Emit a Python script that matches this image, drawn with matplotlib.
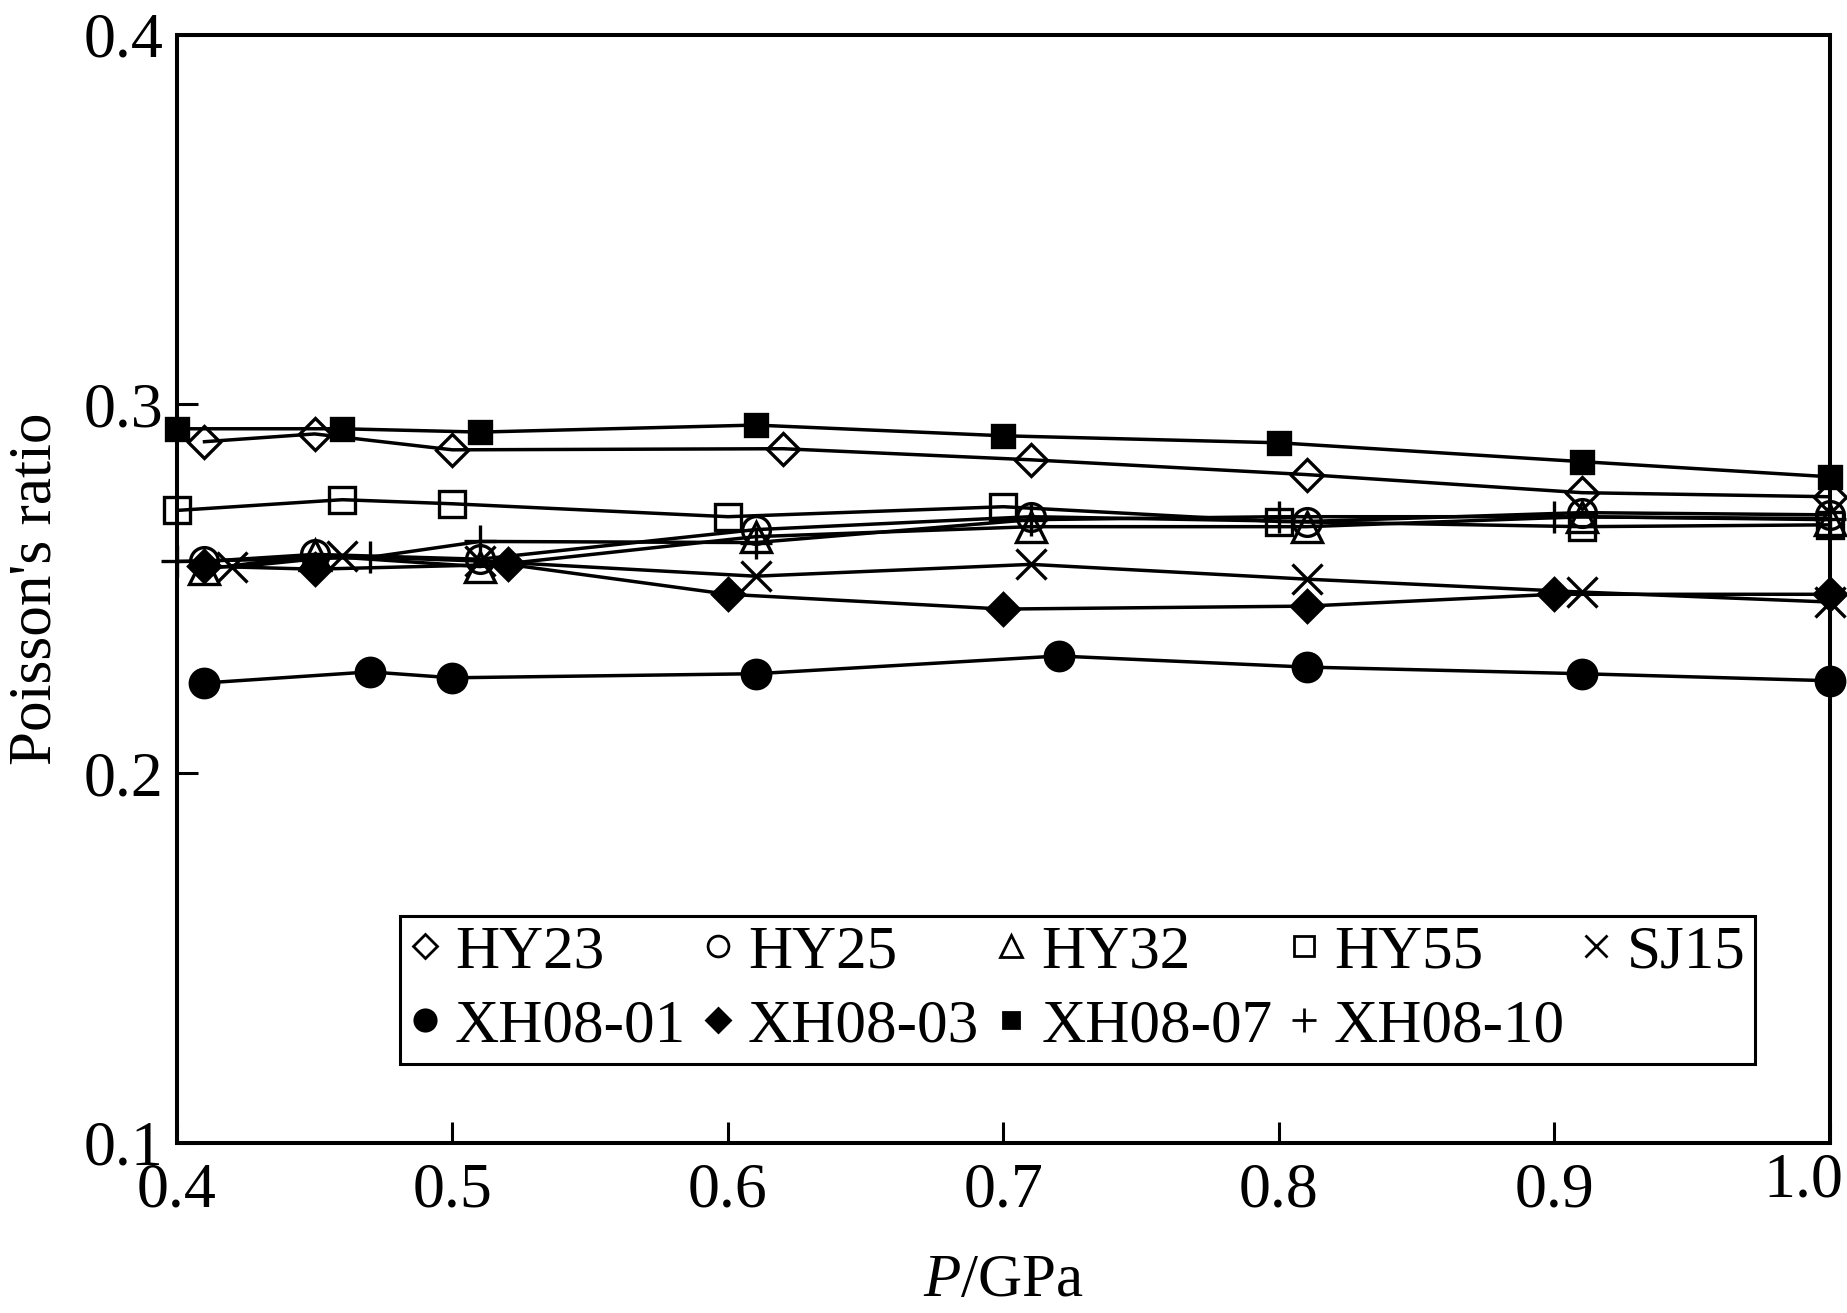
import matplotlib
matplotlib.use('Agg')
from matplotlib import pyplot as plt
from matplotlib.lines import Line2D
from matplotlib.transforms import ScaledTranslation

plt.rcParams['font.family'] = ['Liberation Serif', 'DejaVu Serif']
plt.rcParams['mathtext.fontset'] = 'custom'
plt.rcParams['mathtext.rm'] = 'Liberation Serif'
plt.rcParams['mathtext.it'] = 'Liberation Serif:italic'

# pressure (GPa) and Poisson's ratio for each sample
hy23_p = [0.41, 0.45, 0.50, 0.62, 0.71, 0.81, 0.91, 1.00]
hy23_v = [0.2898, 0.2919, 0.2876, 0.2879, 0.2849, 0.2809, 0.2760, 0.2749]

hy25_p = [0.41, 0.45, 0.51, 0.61, 0.71, 0.81, 0.91, 1.00]
hy25_v = [0.2574, 0.2593, 0.2580, 0.2660, 0.2695, 0.2682, 0.2706, 0.2700]

hy32_p = [0.41, 0.45, 0.51, 0.61, 0.71, 0.81, 0.91, 1.00]
hy32_v = [0.2553, 0.2590, 0.2560, 0.2641, 0.2668, 0.2668, 0.2695, 0.2687]

hy55_p = [0.40, 0.46, 0.50, 0.60, 0.70, 0.80, 0.91, 1.00]
hy55_v = [0.2712, 0.2741, 0.2730, 0.2695, 0.2722, 0.2682, 0.2668, 0.2673]

sj15_p = [0.42, 0.46, 0.51, 0.61, 0.71, 0.81, 0.91, 1.00]
sj15_v = [0.2558, 0.2588, 0.2575, 0.2534, 0.2566, 0.2526, 0.2491, 0.2464]

xh01_p = [0.41, 0.47, 0.50, 0.61, 0.72, 0.81, 0.91, 1.00]
xh01_v = [0.2245, 0.2275, 0.2259, 0.2270, 0.2318, 0.2288, 0.2270, 0.2251]

xh03_p = [0.41, 0.45, 0.52, 0.60, 0.70, 0.81, 0.90, 1.00]
xh03_v = [0.2561, 0.2553, 0.2566, 0.2485, 0.2445, 0.2453, 0.2485, 0.2485]

xh07_p = [0.40, 0.46, 0.51, 0.61, 0.70, 0.80, 0.91, 1.00]
xh07_v = [0.2933, 0.2933, 0.2924, 0.2943, 0.2914, 0.2895, 0.2844, 0.2803]

xh10_p = [0.40, 0.47, 0.51, 0.61, 0.71, 0.80, 0.90, 1.00]
xh10_v = [0.2574, 0.2585, 0.2628, 0.2625, 0.2687, 0.2695, 0.2695, 0.2690]

x_ticks = [0.4, 0.5, 0.6, 0.7, 0.8, 0.9, 1.0]
y_ticks = [0.1, 0.2, 0.3, 0.4]

# name, x, y, marker, size, filled
series = [
    ('HY23', hy23_p, hy23_v, 'D', 16.5, False),
    ('HY25', hy25_p, hy25_v, 'o', 20, False),
    ('HY32', hy32_p, hy32_v, '^', 22, False),
    ('HY55', hy55_p, hy55_v, 's', 19, False),
    ('SJ15', sj15_p, sj15_v, 'x', 22, False),
    ('XH08-01', xh01_p, xh01_v, 'o', 20.5, True),
    ('XH08-03', xh03_p, xh03_v, 'D', 16, True),
    ('XH08-07', xh07_p, xh07_v, 's', 15.5, True),
    ('XH08-10', xh10_p, xh10_v, '+', 23, False),
]

fig = plt.figure(figsize=(18.47, 13.13), dpi=100)
ax = fig.add_axes([0.0958, 0.1295, 0.8950, 0.8442])

handles = {}
for name, xs, ys, mk, ms, filled in series:
    ax.plot(xs, ys, color='black', lw=2.5, marker=mk, ms=ms,
            mfc='black' if filled else 'none', mec='black', mew=2.4,
            clip_on=False)
    handles[name] = Line2D([], [], ls='none', marker=mk, ms=ms * 0.75,
                           mfc='black' if filled else 'none', mec='black',
                           mew=2.0)

ax.set_xlim(0.4, 1.0)
ax.set_ylim(0.1, 0.4)
ax.set_xticks(x_ticks)
ax.set_xticklabels([f'{t:.1f}' for t in x_ticks])
ax.set_yticks(y_ticks)
ax.set_yticklabels([f'{t:.1f}' for t in y_ticks])
ax.tick_params(direction='in', length=15, width=2.2, labelsize=46,
               top=False, right=False)
ax.tick_params(axis='x', pad=14)
ax.tick_params(axis='y', pad=10)
for sp in ax.spines.values():
    sp.set_linewidth(2.9)

# the last x label sits a little left so it stays inside the picture
last = ax.get_xticklabels()[-1]
last.set_transform(last.get_transform() +
                   ScaledTranslation(-0.27, 0.1, fig.dpi_scale_trans))

ax.set_xlabel('$P$/GPa', fontsize=44, labelpad=24)
ax.set_ylabel("Poisson's ratio", fontsize=44, labelpad=14)

# matplotlib fills legend columns first, so interleave the two rows
order = ['HY23', 'XH08-01', 'HY25', 'XH08-03', 'HY32', 'XH08-07',
         'HY55', 'XH08-10', 'SJ15']
leg = ax.legend([handles[n] for n in order], order, ncol=5,
                loc='lower left', bbox_to_anchor=(0.135, 0.0713, 0.8196, 0.138),
                mode='expand', fontsize=44, frameon=True, fancybox=False,
                edgecolor='black', framealpha=1, borderaxespad=0,
                borderpad=0.15, handlelength=0.5, handletextpad=0.25,
                labelspacing=0.3, columnspacing=0.5)
leg.get_frame().set_linewidth(2.2)

fig.savefig('out.png', dpi=100)
